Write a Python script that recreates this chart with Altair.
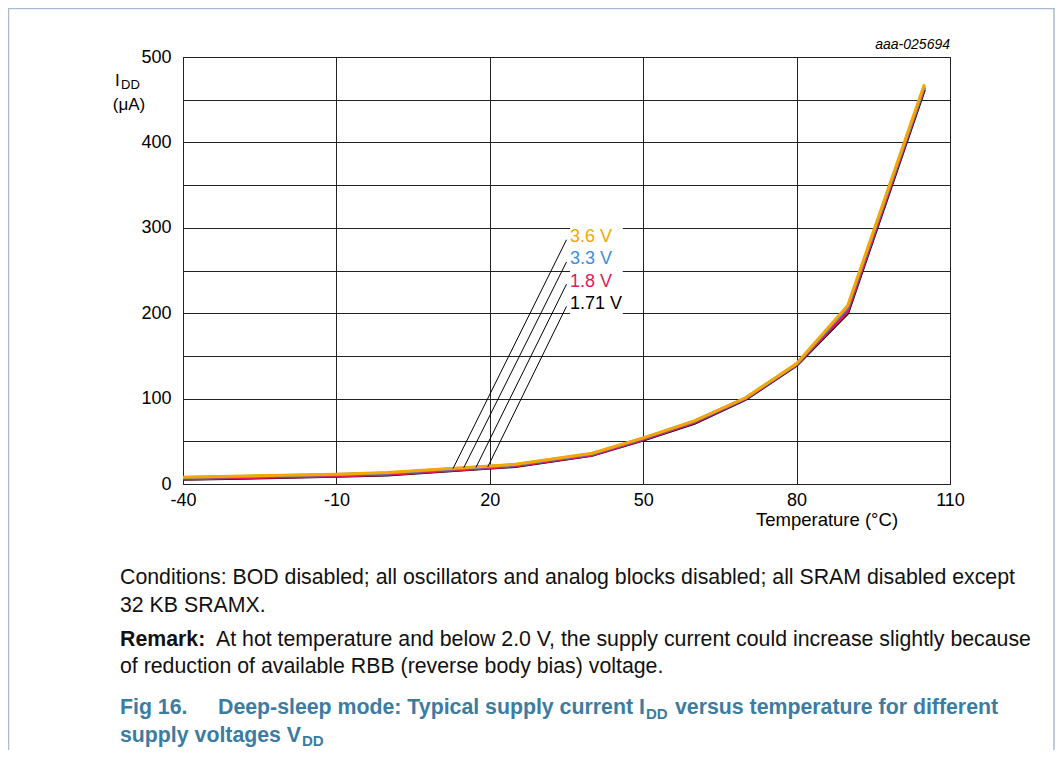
import altair as alt
import pandas as pd

# ---------------- data ----------------
temps = [-40, -10, 0, 25, 40, 50, 60, 70, 80, 90, 105]
idd_171 = [5.5, 9.0, 10.5, 20.5, 33.5, 51.5, 71.0, 99.0, 139.0, 200.0, 462.0]
idd_18 = [6.0, 9.5, 11.0, 21.0, 34.0, 52.0, 72.0, 99.5, 139.5, 202.0, 464.0]
idd_33 = [7.5, 11.0, 13.0, 22.5, 35.5, 53.5, 73.5, 100.5, 140.5, 207.0, 466.0]
idd_36 = [8.0, 11.5, 13.5, 23.0, 36.0, 54.0, 74.0, 101.0, 141.0, 209.0, 468.0]

series_names = ["1.71 V", "1.8 V", "3.3 V", "3.6 V"]
series_colors = ["#000000", "#E0195B", "#3B8EDB", "#F5A700"]
series_values = [idd_171, idd_18, idd_33, idd_36]

# curve labels (top to bottom) and leader lines
label_names = ["3.6 V", "3.3 V", "1.8 V", "1.71 V"]
label_colors = ["#F5A700", "#3B8EDB", "#E0195B", "#000000"]
label_x = [35.7, 35.7, 35.7, 35.7]
label_y = [289, 263, 237, 211]
leader_top_x = [35.0, 35.0, 35.0, 35.0]
leader_top_y = [286, 260, 234, 208]
leader_bot_x = [12.8, 14.9, 17.3, 19.6]
leader_bot_y = [18.0, 19.0, 19.5, 20.0]

x_ticks = [-40, -10, 20, 50, 80, 110]
y_grid = [0, 50, 100, 150, 200, 250, 300, 350, 400, 450, 500]

FONT = "Liberation Sans"
W, H = 767, 427

rows = []
for name, vals in zip(series_names, series_values):
    for t, v in zip(temps, vals):
        rows.append({"T": t, "I": v, "V": name})
df = pd.DataFrame(rows)

xs = alt.Scale(domain=[-40, 110], nice=False, zero=False)
ys = alt.Scale(domain=[0, 500], nice=False)

base = alt.Chart(df)

grid_axes = base.mark_point(opacity=0).encode(
    x=alt.X("T:Q", scale=xs,
            axis=alt.Axis(values=x_ticks, title=None, grid=True, gridColor="#222222",
                          gridWidth=1, gridOpacity=1, domain=False, ticks=False,
                          labelFont=FONT, labelFontSize=18, labelColor="#000000",
                          labelPadding=7, labelFlush=False,
                          labelExpr="replace(datum.label, '\u2212', '-')")),
    y=alt.Y("I:Q", scale=ys,
            axis=alt.Axis(values=y_grid, title=None, grid=True, gridColor="#222222",
                          gridWidth=1, gridOpacity=1, domain=False, ticks=False,
                          labelFont=FONT, labelFontSize=18, labelColor="#000000",
                          labelPadding=12,
                          labelExpr="datum.value % 100 == 0 ? datum.label : ''")),
)

lines = []
for name, col in zip(series_names, series_colors):
    lines.append(
        base.transform_filter(alt.datum.V == name).mark_line(
            color=col, strokeWidth=3, strokeJoin="miter", clip=True
        ).encode(x=alt.X("T:Q", scale=xs), y=alt.Y("I:Q", scale=ys))
    )

lab_df = pd.DataFrame({
    "name": label_names, "color": label_colors, "lx": label_x, "ly": label_y,
    "tx": leader_top_x, "ty": leader_top_y, "bx": leader_bot_x, "by": leader_bot_y,
    "lx2": [x + 10.3 for x in label_x],
    "ly1": [y - 12.5 for y in label_y], "ly2": [y + 12.5 for y in label_y],
})
lab = alt.Chart(lab_df)
lab_bg = lab.mark_rect(color="white").encode(
    x=alt.X("lx:Q", scale=xs), x2="lx2:Q",
    y=alt.Y("ly1:Q", scale=ys), y2="ly2:Q")
leaders = lab.mark_rule(color="#000000", strokeWidth=1).encode(
    x=alt.X("bx:Q", scale=xs), x2="tx:Q",
    y=alt.Y("by:Q", scale=ys), y2="ty:Q")
lab_text = lab.mark_text(align="left", baseline="middle", font=FONT, fontSize=18).encode(
    x=alt.X("lx:Q", scale=xs), y=alt.Y("ly:Q", scale=ys),
    text="name:N", color=alt.Color("color:N", scale=None))

# ---------------- free text (pixel positions relative to plot origin) ----------------
def txt(items, **kw):
    d = pd.DataFrame(items, columns=["t", "px", "py"])
    return alt.Chart(d).mark_text(font=FONT, **kw).encode(
        text="t:N",
        x=alt.X("px:Q", scale=None),
        y=alt.Y("py:Q", scale=None))

OX, OY = 183, 57  # page position of plot origin

plain_items = [
    ["Conditions: BOD disabled; all oscillators and analog blocks disabled; all SRAM disabled except", 120 - OX, 578 - OY],
    ["32 KB SRAMX.", 120 - OX, 606 - OY],
    ["At hot temperature and below 2.0 V, the supply current could increase slightly because", 216 - OX, 640 - OY],
    ["of reduction of available RBB (reverse body bias) voltage.", 120 - OX, 667 - OY],
]
body = txt(plain_items, align="left", baseline="middle", fontSize=21.3, color="#111111")
remark = txt([["Remark:", 120 - OX, 640 - OY]], align="left", baseline="middle",
             fontSize=21.3, fontWeight="bold", color="#111111")

CAP = "#3B7CA3"
cap_main = txt([
    ["Fig 16.", 120 - OX, 708 - OY],
    ["Deep-sleep mode: Typical supply current I", 218 - OX, 708 - OY],
    ["versus temperature for different", 675 - OX, 708 - OY],
    ["supply voltages V", 120 - OX, 736 - OY],
], align="left", baseline="middle", fontSize=21.3, fontWeight="bold", color=CAP)
cap_sub = txt([
    ["DD", 646 - OX, 714 - OY],
    ["DD", 302 - OX, 741 - OY],
], align="left", baseline="middle", fontSize=15, fontWeight="bold", color=CAP)

axis_text = txt([
    ["Temperature (°C)", 827 - OX, 520 - OY],
], align="center", baseline="middle", fontSize=18.5, color="#000000")
mu = txt([["(μA)", 129 - OX, 105 - OY]], align="center", baseline="middle",
         fontSize=17, color="#000000")
idd_i = txt([["I", 115 - OX, 81 - OY]], align="left", baseline="middle", fontSize=17, color="#000000")
idd_dd = txt([["DD", 121 - OX, 85 - OY]], align="left", baseline="middle", fontSize=13, color="#000000")
code = txt([["aaa-025694", 950 - OX, 45 - OY]], align="right", baseline="middle",
           fontSize=14, fontStyle="italic", color="#000000")

# frame of the figure
frame_df = pd.DataFrame({"k": [0]})
FR = "#A9BCCF"
fr = alt.Chart(frame_df)
frame_left = fr.mark_rule(color=FR, strokeWidth=1.5).encode(
    x=alt.value(-174.5), y=alt.value(-48.5), y2=alt.value(720))
frame_right = fr.mark_rule(color=FR, strokeWidth=1.5).encode(
    x=alt.value(871), y=alt.value(-48.5), y2=alt.value(720))
frame_top = fr.mark_rule(color=FR, strokeWidth=1.5).encode(
    x=alt.value(-175), x2=alt.value(872), y=alt.value(-48.5))

chart = alt.layer(
    grid_axes, *lines, lab_bg, leaders, lab_text,
    body, remark, cap_main, cap_sub, axis_text, mu, idd_i, idd_dd, code,
    frame_left, frame_right, frame_top,
).properties(
    width=W, height=H,
    autosize=alt.AutoSizeParams(type="none"),
    padding={"left": 175, "top": 49, "right": 105, "bottom": 266},
    background="white",
).configure_view(stroke="#222222", strokeWidth=1)

chart.save("out.html", embed_options={"renderer": "svg", "actions": False})
